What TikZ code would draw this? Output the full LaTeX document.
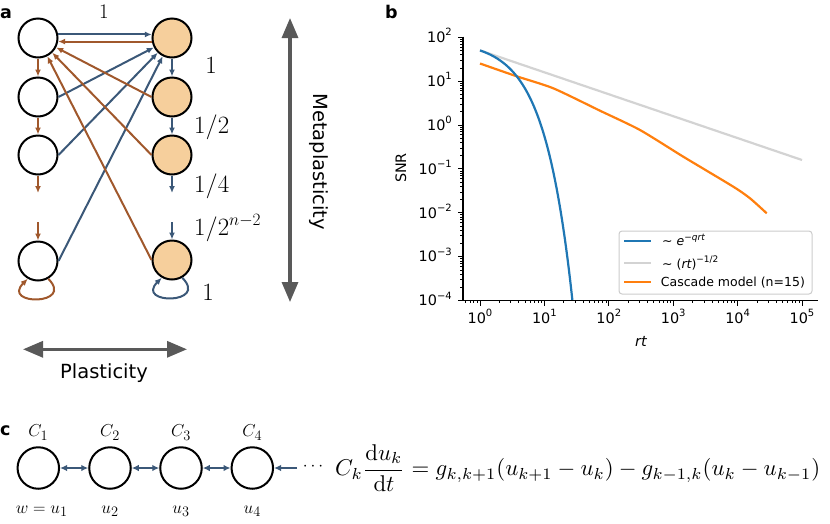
\documentclass[tikz,border=0pt]{standalone}
\usepackage[no-math]{fontspec}
\newfontfamily\djv{DejaVu Sans}
\usetikzlibrary{arrows.meta}
\definecolor{arblue}{HTML}{3B5878}
\definecolor{arbrown}{HTML}{A0582C}
\definecolor{peach}{HTML}{F6CF9C}
\definecolor{mplblue}{HTML}{1F77B4}
\definecolor{mplorange}{HTML}{FF7F0E}
\definecolor{mplgray}{HTML}{D3D3D3}
\definecolor{biggray}{HTML}{595959}
\newcommand\tenp[1]{10\raisebox{0.45em}{\fontsize{10}{10}\selectfont #1}}
\begin{document}
\begin{tikzpicture}[x=1pt,y=1pt,
  state/.style={circle,draw=black,line width=2pt,minimum size=39pt,inner sep=0pt,fill=white},
  hot/.style={state,fill=peach},
  cstate/.style={circle,draw=black,line width=2pt,minimum size=41.5pt,inner sep=0pt,fill=white},
  bl/.style={arblue,line width=2pt,-{Latex[length=7pt,width=6pt]}},
  br/.style={arbrown,line width=2pt,-{Latex[length=7pt,width=6pt]}},
  dbl/.style={arblue,line width=2.2pt,{Latex[length=7pt,width=6.5pt]}-{Latex[length=7pt,width=6.5pt]}},
  big/.style={biggray,line width=3.2pt,{Triangle[length=20pt,width=16pt]}-{Triangle[length=20pt,width=16pt]}},
  lab/.style={font=\djv\bfseries\fontsize{17.5}{17.5}\selectfont,inner sep=0pt,anchor=base west},
  amath/.style={font=\fontsize{25}{25}\selectfont,inner sep=0pt},
  cmath/.style={font=\fontsize{19}{19}\selectfont,inner sep=0pt,anchor=base},
  tl/.style={font=\djv\fontsize{14.4}{14.4}\selectfont,inner sep=0pt},
  lg/.style={font=\djv\fontsize{12.5}{12.5}\selectfont,inner sep=0pt,anchor=base west},
  tk/.style={line width=1pt},
  tkm/.style={line width=0.7pt},
  curve/.style={line width=2.2pt}
]
\useasboundingbox (0,0) rectangle (830,-523);

% ---------------- panel a ----------------
\node[lab] (la) at (0,-18.3) {a};
\node[state] (L1) at (38,-38) {};
\node[state] (L2) at (38,-97) {};
\node[state] (L3) at (38,-155) {};
\node[state] (L4) at (38,-261) {};
\node[hot] (R1) at (172,-38) {};
\node[hot] (R2) at (172,-97) {};
\node[hot] (R3) at (172,-155) {};
\node[hot] (R4) at (172,-260) {};
\coordinate (sL1) at (38,-193);
\coordinate (sL2) at (38,-222);
\coordinate (sR1) at (172,-193);
\coordinate (sR2) at (172,-222);

\draw[bl] (L1.10) -- (R1.170);
\draw[br] (R1.190) -- (L1.-10);
\draw[bl] (L2.east) -- (R1);
\draw[bl] (L3.east) -- (R1);
\draw[bl] (L4.east) -- (R1);
\draw[br] (R2.west) -- (L1);
\draw[br] (R3.west) -- (L1);
\draw[br] (R4.west) -- (L1);

\draw[br] (L1) -- (L2);
\draw[br] (L2) -- (L3);
\draw[br] (L3) -- (sL1);
\draw[br] (sL2) -- (L4);
\draw[bl] (R1) -- (R2);
\draw[bl] (R2) -- (R3);
\draw[bl] (R3) -- (sR1);
\draw[bl] (sR2) -- (R4);

\draw[br] (L4.-60) .. controls +(-45:38) and +(-135:38) .. (L4.-120);
\draw[bl] (R4.-60) .. controls +(-45:38) and +(-135:38) .. (R4.-120);

\node[amath,anchor=base] (w0) at (104,-18.5) {\fontsize{22}{22}\selectfont$1$};
\node[amath,anchor=base] (w1) at (211,-73) {$1$};
\node[amath,anchor=base west] (w2) at (194,-133) {$1/2$};
\node[amath,anchor=base west] (w3) at (194,-192) {$1/4$};
\node[amath,anchor=base west] (w4) at (194,-235) {$1/2^{n-2}$};
\node[amath,anchor=base] (w5) at (208,-300) {$1$};

\coordinate (mt) at (290,-18);
\coordinate (mb) at (290,-302);
\draw[big] (mt) -- (mb);
\node[font=\djv\fontsize{19.5}{19.5}\selectfont,inner sep=0pt,rotate=-90] (meta) at (319,-161.7) {Metaplasticity};
\coordinate (pl) at (23,-349.3);
\coordinate (pr) at (187,-349.3);
\draw[big] (pl) -- (pr);
\node[font=\djv\fontsize{19.5}{19.5}\selectfont,inner sep=0pt,anchor=base] (plast) at (104,-378) {Plasticity};

% ---------------- panel b ----------------
\node[lab] (lb) at (385,-18) {b};
% minor ticks y
\foreach \k in {-4,...,1}{
  \foreach \m in {2,...,9}{
    \draw[tkm] (463,{-(125-43.9*(\k+log10(\m)))}) -- ++(-2.8,0);
  }
}
% minor ticks x
\foreach \m in {6,...,9}{
  \draw[tkm] ({480+64.4*(-1+log10(\m))},-300.6) -- ++(0,-2.8);
}
\foreach \k in {0,...,4}{
  \foreach \m in {2,...,9}{
    \draw[tkm] ({480+64.4*(\k+log10(\m))},-300.6) -- ++(0,-2.8);
  }
}
% major ticks and labels
\foreach \k/\t in {2/2,1/1,0/0,-1/−1,-2/−2,-3/−3,-4/−4}{
  \draw[tk] (463,{-(125-43.9*\k)}) -- ++(-5,0);
  \node[tl,anchor=base east] at (452,{-(125-43.9*\k)-5.2}) {\tenp{\t}};
}
\foreach \k in {0,...,5}{
  \draw[tk] ({480+64.4*\k},-300.6) -- ++(0,-5);
  \node[tl,anchor=base] at ({480+64.4*\k},-323) {\tenp{\k}};
}
% curves
\begin{scope}
\clip (463,-30) rectangle (820,-300.6);
\draw[curve,mplgray] (480,-50.4) -- (802,-160);
\draw[curve,mplorange] plot[smooth,tension=0.4] coordinates {(480,-63.5) (516.7,-76.3) (553.3,-88.3) (600,-110.7) (640,-130) (683.3,-156.7) (733.3,-186.7) (750,-198.3) (766.7,-213.3)};
\draw[curve,mplblue] plot[domain=0:1.437,samples=90] ({480+64.4*\x},{-(125-43.9*(1.69897-0.217147*(10^\x-1)))});
\end{scope}
% spines
\draw[line width=1.1pt] (463,-36.5) -- (463,-300.6) -- (818,-300.6);
\node[tl,rotate=90] (snr) at (401,-168) {SNR};
\node[tl,anchor=base] (rt) at (641,-346) {\itshape rt};
% legend
\draw[draw=black!20,line width=1pt,fill=white,rounded corners=3pt] (619,-231) rectangle (812,-294);
\draw[curve,mplblue] (624,-241) -- (651,-241);
\draw[curve,mplgray] (624,-263.3) -- (651,-263.3);
\draw[curve,mplorange] (624,-282.3) -- (651,-282.3);
\node[lg] at (662,-245.7) {∼ {\itshape e}\raisebox{0.42em}{\fontsize{9}{9}\selectfont −{\itshape qrt}}};
\node[lg] at (662,-268) {∼ ({\itshape rt})\raisebox{0.42em}{\fontsize{9}{9}\selectfont −1/2}};
\node[lg] at (660.7,-286.8) {Cascade model (n=15)};

% ---------------- panel c ----------------
\node[lab] (lc) at (0,-435) {c};
\node[cstate] (c1) at (38.3,-468) {};
\node[cstate] (c2) at (110,-468) {};
\node[cstate] (c3) at (181,-468) {};
\node[cstate] (c4) at (252.3,-468) {};
\coordinate (cin) at (297,-468);
\draw[dbl] (c1) -- (c2);
\draw[dbl] (c2) -- (c3);
\draw[dbl] (c3) -- (c4);
\draw[arblue,line width=2.2pt,-{Latex[length=7pt,width=6.5pt]}] (cin) -- (c4);
\node[cmath,anchor=center] (dots) at (313,-467) {$\cdots$};
\node[cmath] at (38.3,-436.7) {$C_1$};
\node[cmath] at (110,-436.7) {$C_2$};
\node[cmath] at (181,-436.7) {$C_3$};
\node[cmath] at (252.3,-436.7) {$C_4$};
\node[cmath] at (41.7,-513.3) {$w=u_1$};
\node[cmath] at (110,-513.3) {$u_2$};
\node[cmath] at (181,-513.3) {$u_3$};
\node[cmath] at (252.3,-513.3) {$u_4$};
\node[inner sep=0pt,anchor=west] (eq) at (335,-468) {\resizebox{485pt}{!}{$\displaystyle C_k\frac{\mathrm{d}u_k}{\mathrm{d}t}=g_{k,k+1}(u_{k+1}-u_k)-g_{k-1,k}(u_k-u_{k-1})$}};
\end{tikzpicture}
\end{document}
